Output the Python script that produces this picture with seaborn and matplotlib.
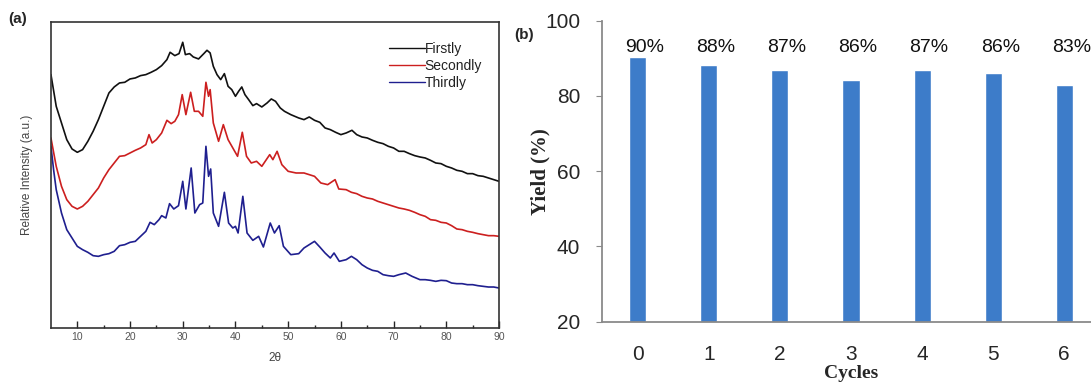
import numpy as np
import pandas as pd
import matplotlib.pyplot as plt
import seaborn as sns

# (a) XRD patterns, intensity in arbitrary units
two_theta_1 = [5, 6, 7, 8, 9, 10, 11, 12, 13, 14, 15, 16, 17, 18, 19, 20, 21, 22, 23, 24, 25, 26, 27,
               27.6, 28.5, 29.3, 30, 30.5, 31.3, 32, 33, 34, 34.6, 35.2, 35.8, 36.5, 37.2, 37.9, 38.6,
               39.3, 40, 40.6, 41.2, 41.8, 42.5, 43.3, 44, 45, 46, 46.8, 47.6, 48.5, 49.3, 50.5, 52,
               53, 54, 55, 56, 57, 58, 59, 60, 61, 62.1, 63, 64, 65, 66, 67, 68, 69, 70, 71, 72, 73,
               74, 75, 76, 77, 78, 79, 80, 81, 82, 83, 84, 85, 86, 87, 88, 89, 90]
firstly = [76.0, 66.5, 61.5, 56.5, 53.7, 52.7, 53.5, 56.0, 59.0, 62.5, 66.5, 70.5, 72.3, 73.5, 73.7,
           74.7, 75.0, 75.7, 76.0, 76.7, 77.5, 78.7, 80.5, 82.7, 81.7, 82.3, 85.7, 82.0, 82.3, 81.3,
           80.7, 82.3, 83.3, 82.5, 78.5, 76.0, 74.5, 76.3, 72.5, 71.5, 69.5, 71.0, 72.3, 70.0, 68.5,
           66.7, 67.3, 66.3, 67.5, 68.7, 68.0, 66.0, 65.0, 64.0, 63.0, 62.5, 63.3, 62.3, 61.7, 60.0,
           59.5, 58.7, 58.0, 58.5, 59.3, 58.0, 57.3, 57.0, 56.3, 55.7, 55.3, 54.5, 54.0, 53.0, 53.0,
           52.3, 51.7, 51.3, 51.0, 50.3, 49.5, 49.3, 48.5, 48.0, 47.3, 47.0, 46.3, 46.3, 45.7, 45.5,
           45.0, 44.5, 44.0]

two_theta_2 = [5, 6, 7, 8, 9, 10, 11, 12, 13, 14, 15, 16, 17, 18, 19, 20, 21, 22, 23, 23.6, 24.2, 25,
               26, 27, 27.8, 28.5, 29.2, 29.9, 30.6, 31.5, 32.2, 33, 33.8, 34.4, 34.9, 35.2, 35.8, 36.8,
               37.7, 38.6, 39.5, 40.4, 41.3, 42.1, 43, 44, 45, 46.5, 47.1, 47.9, 48.8, 50, 51.5, 53,
               54, 55, 56.2, 57.5, 58.9, 59.6, 61, 62, 63, 64, 65, 66, 67, 68, 69, 70, 71, 72, 73, 74,
               75, 76, 77, 78, 79, 80, 81, 82, 83, 84, 85, 86, 87, 88, 89, 90]
secondly = [57.0, 48.5, 42.5, 38.5, 36.5, 35.7, 36.5, 38.0, 40.0, 42.0, 45.0, 47.5, 49.5, 51.5, 51.7,
            52.5, 53.3, 54.0, 55.0, 58.0, 55.5, 56.5, 58.5, 62.3, 61.3, 62.0, 64.0, 70.0, 64.0, 70.7,
            65.0, 65.0, 63.5, 73.7, 69.5, 71.5, 61.5, 56.0, 61.0, 56.5, 54.0, 51.5, 58.7, 51.5, 49.5,
            50.0, 48.5, 52.0, 50.5, 53.0, 49.0, 47.0, 46.5, 46.5, 46.0, 45.5, 43.5, 43.0, 44.5, 41.7,
            41.5, 40.7, 40.3, 39.5, 39.0, 38.7, 38.0, 37.5, 37.0, 36.5, 36.0, 35.7, 35.3, 34.7, 34.0,
            33.5, 32.5, 32.3, 31.7, 31.5, 30.7, 29.7, 29.5, 29.0, 28.7, 28.3, 28.0, 27.7, 27.7, 27.5]

two_theta_3 = [5, 5.5, 6, 7, 8, 9, 10, 11, 12, 13, 14, 15, 16, 17, 18, 19, 20, 21, 22, 23, 23.8, 24.6,
               25.5, 26, 26.8, 27.5, 28.3, 29.2, 30, 30.6, 31.6, 32.3, 33.2, 33.8, 34.4, 34.9, 35.3,
               35.8, 36.8, 37.9, 38.7, 39.5, 40, 40.5, 41.4, 42.2, 43.3, 44.4, 45.3, 46.6, 47.4, 48.3,
               49.1, 50.5, 52, 53, 54, 55, 56, 57, 58, 58.7, 59.7, 61, 62, 63, 64, 65, 66, 67, 68, 69,
               70, 71, 72.3, 73.5, 75, 76, 77, 78, 79, 80, 81, 82, 83, 84, 85, 86, 87, 88, 89, 90]
thirdly = [54.5, 47.5, 41.5, 34.5, 29.5, 27.0, 24.5, 23.5, 22.7, 21.7, 21.5, 22.0, 22.3, 23.0, 24.7,
           25.0, 25.7, 26.0, 27.5, 29.0, 31.7, 31.0, 32.5, 33.7, 33.0, 37.3, 35.7, 36.7, 44.0, 35.7,
           48.0, 34.5, 37.0, 37.5, 54.5, 45.5, 47.7, 34.5, 30.5, 40.7, 31.5, 30.0, 30.5, 28.5, 39.5,
           28.5, 26.3, 27.5, 24.3, 31.5, 28.5, 30.7, 24.5, 22.0, 22.3, 24.0, 25.0, 26.0, 24.3, 22.5,
           21.0, 22.5, 20.0, 20.5, 21.5, 20.5, 19.0, 18.0, 17.3, 17.0, 16.0, 15.7, 15.5, 16.0, 16.5,
           15.5, 14.5, 14.5, 14.3, 14.0, 14.3, 14.2, 13.5, 13.3, 13.3, 13.0, 13.0, 12.7, 12.5, 12.3,
           12.3, 12.0]

series_names = ["Firstly", "Secondly", "Thirdly"]
series_colors = ["#111111", "#cc1f1f", "#1f1f8f"]

# (b) recycling yields
cycles = ["0", "1", "2", "3", "4", "5", "6"]
yields = [90.3, 88.3, 86.9, 84.3, 86.9, 86.2, 83.0]
yield_labels = ["90%", "88%", "87%", "86%", "87%", "86%", "83%"]

sns.set_style("white")
plt.rcParams["font.family"] = ["Liberation Sans", "DejaVu Sans"]

fig = plt.figure(figsize=(10.91, 3.85), dpi=100)

# ---- panel (a)
ax1 = fig.add_axes([0.0467, 0.148, 0.4107, 0.795])
xrd = pd.concat([
    pd.DataFrame({"2theta": two_theta_1, "I": firstly, "run": series_names[0]}),
    pd.DataFrame({"2theta": two_theta_2, "I": secondly, "run": series_names[1]}),
    pd.DataFrame({"2theta": two_theta_3, "I": thirdly, "run": series_names[2]}),
])
sns.lineplot(data=xrd, x="2theta", y="I", hue="run", palette=series_colors,
             linewidth=1.2, ax=ax1, legend=False, estimator=None)
ax1.set_xlim(5, 90)
ax1.set_ylim(0, 91.8)
ax1.set_xticks(range(10, 91, 10))
ax1.set_xticks(range(15, 90, 10), minor=True)
ax1.set_yticks([])
ax1.tick_params(axis="x", which="major", direction="in", length=5, width=1,
                labelsize=7.5, labelcolor="#555555", pad=3, bottom=True)
ax1.tick_params(axis="x", which="minor", direction="in", length=2.5, width=1, bottom=True)
for s in ax1.spines.values():
    s.set_color("#333333")
    s.set_linewidth(1.2)
ax1.set_xlabel("2θ", fontsize=8.5, color="#444444", labelpad=7)
ax1.set_ylabel("Relative Intensity (a.u.)", fontsize=8.5, color="#444444", labelpad=13)
handles = [plt.Line2D([], [], color=c, lw=1) for c in series_colors]
ax1.legend(handles, series_names, loc="upper right", bbox_to_anchor=(0.99, 0.975),
           frameon=False, fontsize=10, handlelength=2.6, handletextpad=0.0,
           labelspacing=0.2, labelcolor="#222222")
fig.text(0.008, 0.94, "(a)", fontsize=11, fontweight="bold")

# ---- panel (b)
ax2 = fig.add_axes([0.552, 0.1644, 0.456, 0.7818])
sns.barplot(x=cycles, y=yields, color="#3d7cc9", width=0.24, saturation=1, ax=ax2)
ax2.set_xlim(-0.5, 6.5)
ax2.set_ylim(20, 100)
ax2.set_yticks([20, 40, 60, 80, 100])
for i, lab in enumerate(yield_labels):
    ax2.text(i + 0.1, 92.8, lab, ha="center", va="center", fontsize=14, color="#111111")
sns.despine(ax=ax2, top=True, right=True)
ax2.spines["left"].set_color("#8a8a8a")
ax2.spines["bottom"].set_color("#8a8a8a")
ax2.spines["left"].set_linewidth(1.3)
ax2.spines["bottom"].set_linewidth(1.3)
ax2.tick_params(axis="y", left=True, direction="out", length=4, color="#8a8a8a",
                labelsize=15, pad=12)
ax2.tick_params(axis="x", bottom=False, labelsize=15, pad=13)
ax2.set_xlabel("Cycles", family=["Liberation Serif", "DejaVu Serif"], fontweight="bold",
               fontsize=14, labelpad=1)
ax2.set_ylabel("Yield (%)", family=["Liberation Serif", "DejaVu Serif"], fontweight="bold",
               fontsize=15, labelpad=-4)
fig.text(0.471, 0.9, "(b)", fontsize=11, fontweight="bold")

plt.savefig("out.png", dpi=100)
